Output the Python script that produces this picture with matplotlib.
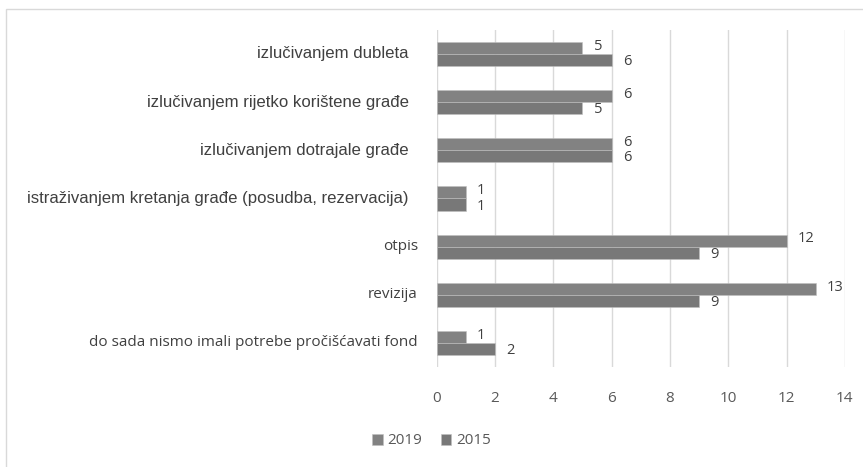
import numpy as np
import matplotlib.pyplot as plt
from matplotlib.patches import Rectangle

# Data (top to bottom as shown)
categories = [
    "izlučivanjem dubleta",
    "izlučivanjem rijetko korištene građe",
    "izlučivanjem dotrajale građe",
    "istraživanjem kretanja građe (posudba, rezervacija)",
    "otpis",
    "revizija",
    "do sada nismo imali potrebe pročišćavati fond",
]
values_2019 = [5, 6, 6, 1, 12, 13, 1]
values_2015 = [6, 5, 6, 1, 9, 9, 2]
series_names = ["2019", "2015"]
x_ticks = [0, 2, 4, 6, 8, 10, 12, 14]

col_2019 = "#828282"
col_2015 = "#787878"

fig = plt.figure(figsize=(8.63, 4.67), dpi=100)
ax = fig.add_axes([0.506, 0.214, 0.473, 0.722])

# outer chart border (only left/top visible in the crop)
fig.patches.append(Rectangle((5.5 / 863, -1), 2, 2 - 9 / 467, transform=fig.transFigure,
                             fill=False, edgecolor="#d9d9d9", linewidth=1))

y = np.arange(len(categories))
h = 0.25
b1 = ax.barh(y - h / 2, values_2019, height=h, color=col_2019, label=series_names[0],
             edgecolor="#bfbfbf", linewidth=0.4)
b2 = ax.barh(y + h / 2, values_2015, height=h, color=col_2015, label=series_names[1],
             edgecolor="#bfbfbf", linewidth=0.4)

# value labels, nudged apart a little so the pairs don't collide
for bars, dy in ((b1, 1.2), (b2, -1.2)):
    for ann in ax.bar_label(bars, padding=8, fontsize=10.5, color="#404040", family="Open Sans"):
        ann.xyann = (8, dy)

ax.set_ylim(len(categories) - 0.5, -0.5)
ax.set_xlim(0, 14)
ax.set_xticks(x_ticks)
ax.set_yticks([])

# category labels: the original mixes two fonts (first four Arial-like, last three Calibri-like)
for i, cat in enumerate(categories):
    if i < 4:
        ax.annotate(cat, xy=(0, y[i]), xycoords=ax.get_yaxis_transform(),
                    xytext=(-20, 0), textcoords="offset points", ha="right", va="center",
                    fontsize=12.1, color="#404040", family="Liberation Sans")
    else:
        ax.annotate(cat, xy=(0, y[i]), xycoords=ax.get_yaxis_transform(),
                    xytext=(-13.5, 0), textcoords="offset points", ha="right", va="center",
                    fontsize=11, color="#404040", family="Open Sans")

ax.tick_params(axis="x", length=0, pad=17, labelsize=11, labelcolor="#595959")
for lab in ax.get_xticklabels():
    lab.set_family("Open Sans")

ax.grid(axis="x", color="#d9d9d9", linewidth=1)
ax.set_axisbelow(True)
for s in ax.spines.values():
    s.set_visible(False)

fig.legend(loc="center", bbox_to_anchor=(0.5, 1 - 441 / 467), ncol=2, frameon=False,
           handlelength=0.7, handleheight=0.7, handletextpad=0.3, columnspacing=1.2,
           prop={"family": "Open Sans", "size": 11}, labelcolor="#595959")

fig.savefig("out.png", dpi=100)
